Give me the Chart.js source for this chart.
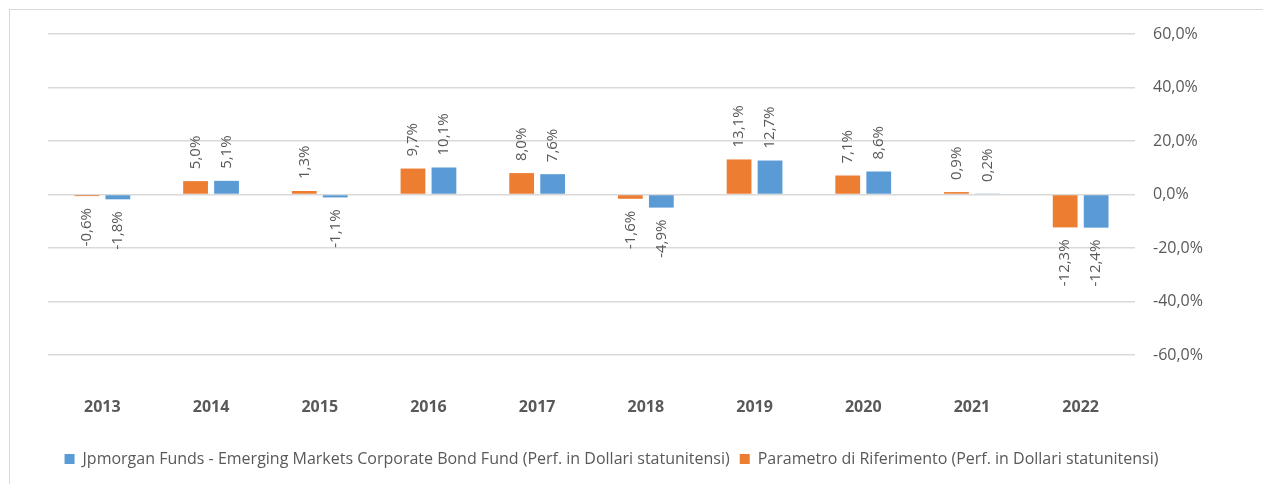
<!DOCTYPE html>
<html>
<head>
<meta charset="utf-8">
<script src="https://cdn.jsdelivr.net/npm/chart.js@4.4.1/dist/chart.umd.min.js"></script>
<style>
  body { margin: 0; background: #fff; }
  #frame { position: absolute; left: 9px; top: 9px; width: 1300px; height: 500px; border: 1px solid #d9d9d9; }
  #perfChart { position: absolute; left: 0; top: 0; }
</style>
</head>
<body>
<div id="frame"></div>
<canvas id="perfChart" width="1263" height="484"></canvas>
<script>
const years = ["2013", "2014", "2015", "2016", "2017", "2018", "2019", "2020", "2021", "2022"];
const benchmarkPerf = [-0.6, 5.0, 1.3, 9.7, 8.0, -1.6, 13.1, 7.1, 0.9, -12.3];
const fundPerf = [-1.8, 5.1, -1.1, 10.1, 7.6, -4.9, 12.7, 8.6, 0.2, -12.4];
const fundLabel = "Jpmorgan Funds - Emerging Markets Corporate Bond Fund (Perf. in Dollari statunitensi)";
const benchmarkLabel = "Parametro di Riferimento (Perf. in Dollari statunitensi)";
const yTicks = [-60, -40, -20, 0, 20, 40, 60];

const FONT = "'Open Sans', sans-serif";
const GREY = "#595959";

function pct(v, digits) {
  return v.toFixed(digits).replace(".", ",") + "%";
}

// vertical value labels above positive bars, below negative ones
const barValueLabels = {
  id: "barValueLabels",
  afterDatasetsDraw(chart) {
    const ctx = chart.ctx;
    ctx.save();
    ctx.font = "15px " + FONT;
    ctx.fillStyle = GREY;
    ctx.textBaseline = "middle";
    chart.data.datasets.forEach((ds, i) => {
      chart.getDatasetMeta(i).data.forEach((bar, j) => {
        const v = ds.data[j];
        const up = v >= 0;
        ctx.save();
        ctx.translate(bar.x, up ? bar.y - 12 : bar.y + 12);
        ctx.rotate(-Math.PI / 2);
        ctx.textAlign = up ? "left" : "right";
        ctx.fillText(pct(v, 1), 0, 0);
        ctx.restore();
      });
    });
    ctx.restore();
  }
};

new Chart(document.getElementById("perfChart"), {
  type: "bar",
  data: {
    labels: years,
    datasets: [
      { label: benchmarkLabel, data: benchmarkPerf, backgroundColor: "#ED7D31", yAxisID: "y" },
      { label: fundLabel, data: fundPerf, backgroundColor: "#5B9BD5", yAxisID: "y" }
    ]
  },
  options: {
    responsive: false,
    animation: false,
    categoryPercentage: 0.57,
    barPercentage: 0.8,
    layout: { padding: { left: 0, top: 34, right: 40, bottom: 7 } },
    plugins: {
      tooltip: { enabled: false },
      legend: {
        position: "bottom",
        reverse: true,
        labels: {
          boxWidth: 10,
          boxHeight: 10,
          padding: 10,
          color: GREY,
          font: { family: FONT, size: 16 }
        }
      }
    },
    scales: {
      x: {
        grid: { display: false, drawTicks: false },
        border: { display: false },
        ticks: { color: GREY, padding: 43, font: { family: FONT, size: 16, weight: "bold" } },
        afterFit(scale) { scale.height = 86; }
      },
      y: {
        position: "right",
        min: -60,
        max: 60,
        afterBuildTicks(scale) { scale.ticks = yTicks.map(v => ({ value: v })); },
        grid: { color: "#d9d9d9", lineWidth: 1.5, drawTicks: false },
        border: { display: false },
        ticks: {
          color: GREY,
          padding: 18,
          font: { family: FONT, size: 16 },
          callback: v => pct(v, 1)
        },
        afterFit(scale) { scale.width = 88; }
      },
      // empty left gutter
      gutter: {
        type: "linear",
        position: "left",
        grid: { display: false },
        border: { display: false },
        ticks: { display: false },
        afterFit(scale) { scale.width = 48; }
      }
    }
  },
  plugins: [barValueLabels]
});
</script>
</body>
</html>
